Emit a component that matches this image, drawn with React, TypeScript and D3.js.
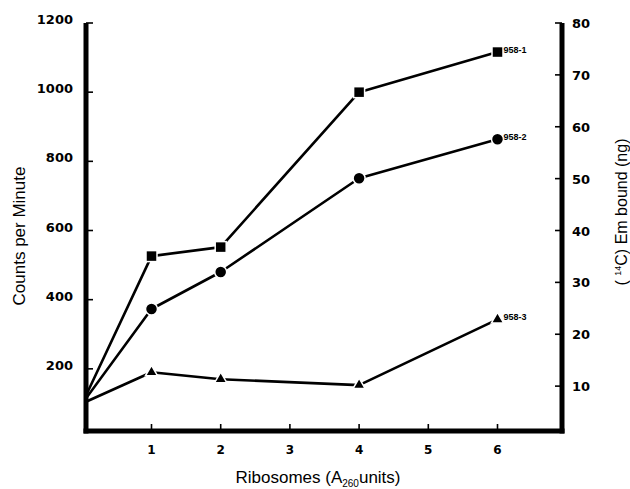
import { useMemo } from "react";
import * as d3 from "d3";

const WIDTH = 630;
const HEIGHT = 489;

// ribosome amounts (A260 units)
const ribosomes = [0, 1, 2, 4, 6];
const series1 = [100, 526, 552, 1000, 1116]; // 958-1, squares
const series2 = [100, 373, 480, 751, 864]; // 958-2, circles
const series3 = [100, 190, 170, 153, 343]; // 958-3, triangles
const seriesNames = ["958-1", "958-2", "958-3"];

const leftTicks = [200, 400, 600, 800, 1000, 1200];
const rightTicks = [10, 20, 30, 40, 50, 60, 70, 80];
const xTicks = [1, 2, 3, 4, 5, 6];

const LEFT_AXIS_X = 86;
const RIGHT_AXIS_X = 562;
const BOTTOM_AXIS_Y = 431;
const AXIS_TOP = 23;

const TICK_FONT = "'DejaVu Sans', sans-serif";
const TITLE_FONT = "'Liberation Sans', Arial, Helvetica, sans-serif";

export default function App() {
  const x = useMemo(() => d3.scaleLinear().domain([0, 6]).range([82.3, 497.5]), []);
  const y = useMemo(() => d3.scaleLinear().domain([0, 1200]).range([438, 23]), []);
  const yRight = useMemo(() => d3.scaleLinear().domain([0, 80]).range([438, 23]), []);

  const line = d3
    .line<number>()
    .x((_, i) => x(ribosomes[i]))
    .y((v) => y(v));

  const allSeries = [series1, series2, series3];
  const triangle = d3.symbol().type(d3.symbolTriangle).size(64)() ?? "";

  function marker(kind: number, cx: number, cy: number) {
    if (kind === 0) {
      return (
        <rect x={cx - 5.5} y={cy - 5.5} width={11} height={11} fill="#000" stroke="#fff" strokeWidth={1.5} />
      );
    }
    if (kind === 1) {
      return <circle cx={cx} cy={cy} r={6} fill="#000" stroke="#fff" strokeWidth={1.5} />;
    }
    return (
      <path d={triangle} transform={`translate(${cx},${cy})`} fill="#000" stroke="#fff" strokeWidth={1.5} />
    );
  }

  return (
    <svg
      width={WIDTH}
      height={HEIGHT}
      viewBox={`0 0 ${WIDTH} ${HEIGHT}`}
      style={{ position: "absolute", left: 0, top: 0, background: "#fff" }}
    >
      <defs>
        <clipPath id="plotClip">
          <rect x={LEFT_AXIS_X} y={0} width={RIGHT_AXIS_X - LEFT_AXIS_X} height={BOTTOM_AXIS_Y} />
        </clipPath>
      </defs>

      {/* series lines */}
      <g clipPath="url(#plotClip)">
        {allSeries.map((values, s) => (
          <path key={`l${s}`} d={line(values) ?? ""} fill="none" stroke="#000" strokeWidth={2.6} strokeLinejoin="round" />
        ))}
      </g>

      {/* markers, skipping the common origin */}
      {allSeries.map((values, s) => (
        <g key={`m${s}`}>
          {values.map((v, i) => (i === 0 ? null : <g key={i}>{marker(s, x(ribosomes[i]), y(v))}</g>))}
          <text
            x={x(ribosomes[values.length - 1]) + 6}
            y={y(values[values.length - 1]) + 0.5}
            fontFamily={TITLE_FONT}
            fontWeight="bold"
            fontSize={9}
            fill="#000"
          >
            {seriesNames[s]}
          </text>
        </g>
      ))}

      {/* axes */}
      <line x1={LEFT_AXIS_X} x2={LEFT_AXIS_X} y1={AXIS_TOP} y2={BOTTOM_AXIS_Y + 2.5} stroke="#000" strokeWidth={5} />
      <line x1={RIGHT_AXIS_X} x2={RIGHT_AXIS_X} y1={AXIS_TOP} y2={BOTTOM_AXIS_Y + 2.5} stroke="#000" strokeWidth={5} />
      <line x1={LEFT_AXIS_X - 2.5} x2={RIGHT_AXIS_X + 2.5} y1={BOTTOM_AXIS_Y} y2={BOTTOM_AXIS_Y} stroke="#000" strokeWidth={5} />

      {leftTicks.map((t) => (
        <g key={`lt${t}`}>
          <line x1={LEFT_AXIS_X} x2={LEFT_AXIS_X + 7} y1={y(t)} y2={y(t)} stroke="#000" strokeWidth={1.6} />
          <text
            x={73}
            y={y(t) + 1}
            textAnchor="end"
            fontFamily={TICK_FONT}
            fontWeight="bold"
            fontSize={13}
            fill="#000"
          >
            {t}
          </text>
        </g>
      ))}

      {rightTicks.map((t) => (
        <g key={`rt${t}`}>
          <line x1={RIGHT_AXIS_X - 7} x2={RIGHT_AXIS_X} y1={yRight(t)} y2={yRight(t)} stroke="#000" strokeWidth={1.6} />
          <text
            x={572}
            y={yRight(t) + 5}
            textAnchor="start"
            fontFamily={TICK_FONT}
            fontWeight="bold"
            fontSize={13}
            fill="#000"
          >
            {t}
          </text>
        </g>
      ))}

      {xTicks.map((t) => (
        <g key={`xt${t}`}>
          <line x1={x(t)} x2={x(t)} y1={BOTTOM_AXIS_Y - 7} y2={BOTTOM_AXIS_Y} stroke="#000" strokeWidth={1.6} />
          <text
            x={x(t)}
            y={454}
            textAnchor="middle"
            fontFamily={TICK_FONT}
            fontWeight="bold"
            fontSize={12}
            fill="#000"
          >
            {t}
          </text>
        </g>
      ))}

      {/* axis titles */}
      <text
        transform="translate(25,236) rotate(-90)"
        textAnchor="middle"
        fontFamily={TITLE_FONT}
        fontSize={17}
        fill="#000"
      >
        Counts per Minute
      </text>

      <text x={318} y={483} textAnchor="middle" fontFamily={TITLE_FONT} fontSize={17} fill="#000">
        Ribosomes (A
        <tspan fontSize={10} dy={4}>
          260
        </tspan>
        <tspan dy={-4}>units)</tspan>
      </text>

      <text
        transform="translate(627,212) rotate(-90)"
        textAnchor="middle"
        fontFamily={TITLE_FONT}
        fontSize={16}
        fill="#000"
      >
        ( <tspan fontSize={9} dy={-6}>14</tspan>
        <tspan dy={6}>C) Em bound (ng)</tspan>
      </text>
    </svg>
  );
}
